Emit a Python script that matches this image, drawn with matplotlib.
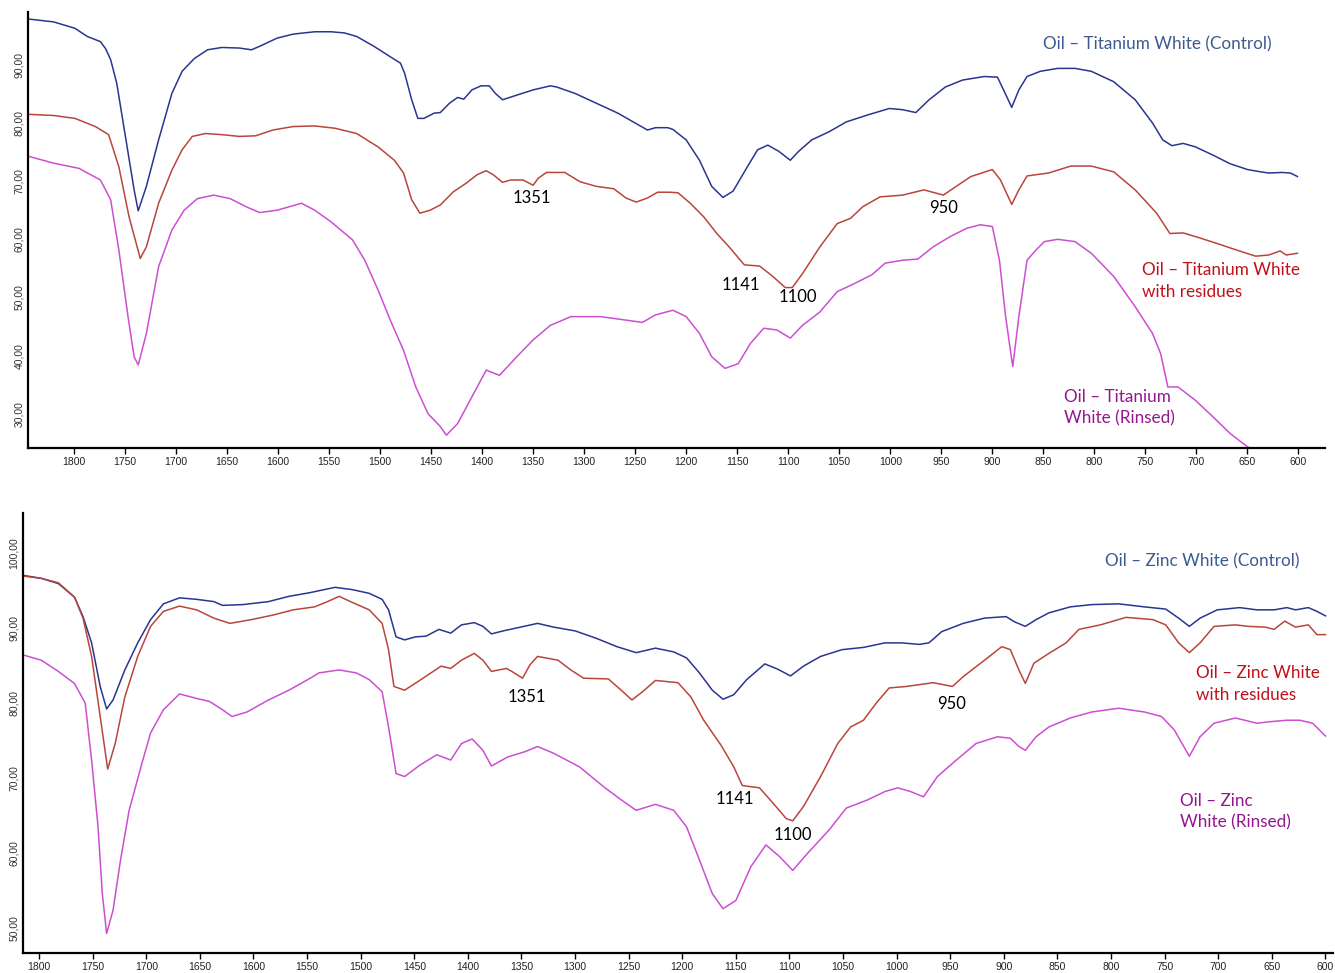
import matplotlib
matplotlib.use("Agg")
import matplotlib.pyplot as plt
from matplotlib.ticker import FuncFormatter

# ---------------- Titanium white panel ----------------
ti_control_wn = [1845, 1820, 1799, 1787, 1774, 1769, 1764, 1758, 1750, 1741, 1737, 1729, 1717, 1704,
                 1694, 1682, 1669, 1655, 1638, 1626, 1618, 1601, 1585, 1564, 1548, 1535, 1523, 1506,
                 1490, 1480, 1476, 1469, 1463, 1457, 1447, 1441, 1432, 1424, 1418, 1410, 1401, 1393,
                 1387, 1380, 1366, 1350, 1333, 1327, 1309, 1288, 1267, 1251, 1238, 1230, 1218, 1213,
                 1200, 1187, 1175, 1164, 1154, 1141, 1130, 1120, 1109, 1098, 1090, 1077, 1060, 1043,
                 1022, 1001, 988, 975, 962, 946, 929, 908, 895, 889, 881, 874, 866, 853, 836, 819,
                 803, 781, 760, 743, 733, 724, 713, 701, 684, 667, 650, 637, 629, 616, 608, 601]
ti_control_pct = [97.9, 97.4, 96.3, 94.9, 94.0, 92.8, 90.9, 86.8, 78.2, 68.5, 64.9, 69.1, 77.1, 85.1,
                  88.9, 91.1, 92.6, 93.0, 92.9, 92.6, 93.2, 94.6, 95.3, 95.7, 95.7, 95.5, 94.9, 93.2,
                  91.4, 90.3, 88.6, 84.0, 80.8, 80.8, 81.7, 81.8, 83.4, 84.4, 84.1, 85.7, 86.4, 86.4,
                  85.1, 84.0, 84.8, 85.7, 86.4, 86.2, 85.1, 83.4, 81.7, 80.1, 78.8, 79.2, 79.2, 78.9,
                  77.1, 73.6, 69.1, 67.2, 68.3, 72.2, 75.4, 76.2, 75.1, 73.6, 75.1, 77.1, 78.5, 80.2,
                  81.4, 82.5, 82.3, 81.8, 84.0, 86.2, 87.4, 88.0, 87.9, 85.7, 82.7, 85.7, 88.0, 88.9,
                  89.4, 89.4, 88.9, 87.1, 84.0, 80.0, 77.1, 76.1, 76.5, 75.9, 74.5, 73.0, 72.0, 71.6,
                  71.4, 71.5, 71.4, 70.8]

ti_residue_wn = [1845, 1820, 1799, 1779, 1766, 1756, 1746, 1735, 1729, 1717, 1704, 1694, 1684, 1671,
                 1655, 1638, 1622, 1605, 1585, 1564, 1544, 1523, 1502, 1486, 1477, 1469, 1461, 1451,
                 1441, 1428, 1416, 1405, 1396, 1389, 1380, 1372, 1360, 1350, 1345, 1337, 1319, 1304,
                 1288, 1271, 1259, 1249, 1238, 1228, 1216, 1208, 1196, 1183, 1170, 1158, 1143, 1128,
                 1115, 1103, 1096, 1086, 1069, 1052, 1039, 1027, 1010, 988, 967, 948, 938, 921, 900,
                 892, 881, 874, 866, 845, 823, 803, 781, 760, 739, 726, 713, 696, 675, 658, 642, 629,
                 618, 612, 601]
ti_residue_pct = [81.5, 81.3, 80.8, 79.4, 78.0, 72.5, 63.9, 56.7, 58.7, 66.2, 71.9, 75.4, 77.7, 78.2,
                  78.0, 77.7, 77.8, 78.8, 79.4, 79.5, 79.1, 78.2, 75.9, 73.6, 71.4, 66.8, 64.5, 65.0,
                  65.9, 68.2, 69.6, 71.1, 71.8, 71.1, 69.8, 70.2, 70.2, 69.3, 70.5, 71.5, 71.5, 69.9,
                  69.1, 68.7, 67.1, 66.4, 67.1, 68.1, 68.1, 68.0, 66.2, 63.9, 61.0, 58.7, 55.6, 55.4,
                  53.6, 51.7, 51.7, 54.1, 58.7, 62.7, 63.6, 65.6, 67.3, 67.6, 68.5, 67.6, 68.8, 70.8,
                  72.0, 70.2, 66.0, 68.5, 70.9, 71.4, 72.6, 72.6, 71.6, 68.5, 64.5, 61.0, 61.1, 60.2,
                  59.0, 58.0, 57.1, 57.3, 58.0, 57.3, 57.6]

ti_rinsed_wn = [1845, 1820, 1795, 1774, 1764, 1756, 1747, 1741, 1737, 1729, 1717, 1704, 1692, 1679,
                1663, 1647, 1630, 1618, 1601, 1577, 1564, 1548, 1527, 1515, 1502, 1490, 1477, 1465,
                1453, 1441, 1435, 1424, 1410, 1396, 1383, 1366, 1350, 1333, 1313, 1284, 1259, 1243,
                1230, 1213, 1200, 1187, 1175, 1162, 1149, 1137, 1124, 1111, 1098, 1086, 1069, 1052,
                1035, 1018, 1005, 988, 973, 958, 941, 925, 912, 900, 893, 887, 880, 874, 866, 857,
                849, 836, 819, 803, 781, 760, 743, 735, 728, 718, 701, 684, 667, 650, 642]
ti_rinsed_pct = [74.3, 73.1, 72.2, 70.2, 66.8, 58.2, 46.7, 39.8, 38.4, 43.8, 55.3, 61.6, 65.0, 67.0,
                 67.6, 67.0, 65.5, 64.6, 65.0, 66.2, 65.0, 63.0, 59.9, 56.4, 51.3, 46.1, 40.9, 34.6,
                 30.0, 27.8, 26.3, 28.3, 32.9, 37.5, 36.6, 39.8, 42.7, 45.2, 46.7, 46.7, 46.1, 45.7,
                 47.0, 47.8, 46.7, 43.8, 39.8, 37.8, 38.6, 42.1, 44.7, 44.4, 43.0, 45.2, 47.5, 51.0,
                 52.4, 53.9, 55.9, 56.4, 56.6, 58.7, 60.5, 61.9, 62.5, 62.2, 56.4, 46.7, 38.1, 46.7,
                 56.4, 58.2, 59.6, 60.0, 59.6, 57.6, 53.6, 48.4, 43.8, 40.3, 34.6, 34.6, 32.3, 29.5,
                 26.6, 24.3, 23.7]

# ---------------- Zinc white panel ----------------
zn_control_wn = [1815, 1798, 1782, 1767, 1759, 1751, 1743, 1737, 1731, 1720, 1708, 1696, 1684, 1669,
                 1653, 1637, 1629, 1610, 1586, 1567, 1547, 1524, 1508, 1492, 1480, 1474, 1467, 1459,
                 1449, 1439, 1427, 1416, 1406, 1394, 1386, 1378, 1367, 1351, 1335, 1320, 1300, 1280,
                 1261, 1243, 1225, 1208, 1196, 1184, 1172, 1162, 1152, 1140, 1123, 1111, 1099, 1087,
                 1071, 1051, 1031, 1011, 995, 979, 970, 958, 938, 918, 898, 890, 880, 870, 858, 838,
                 818, 793, 769, 749, 737, 727, 717, 701, 680, 664, 648, 636, 628, 616, 608, 600]
zn_control_pct = [97.0, 96.6, 95.9, 94.1, 91.5, 88.0, 82.2, 79.2, 80.4, 84.4, 88.0, 91.1, 93.2, 94.0,
                  93.8, 93.5, 93.0, 93.1, 93.5, 94.2, 94.7, 95.4, 95.1, 94.6, 93.8, 92.4, 88.8, 88.4,
                  88.8, 88.9, 89.8, 89.3, 90.4, 90.7, 90.2, 89.2, 89.6, 90.1, 90.6, 90.1, 89.6, 88.6,
                  87.5, 86.7, 87.3, 86.8, 86.0, 84.0, 81.7, 80.5, 81.1, 83.1, 85.2, 84.5, 83.6, 84.9,
                  86.2, 87.1, 87.4, 88.0, 88.0, 87.8, 88.0, 89.5, 90.6, 91.3, 91.5, 90.8, 90.2, 91.1,
                  92.0, 92.8, 93.1, 93.2, 92.8, 92.5, 91.3, 90.2, 91.3, 92.4, 92.7, 92.4, 92.4, 92.7,
                  92.4, 92.7, 92.2, 91.6]

zn_residue_wn = [1815, 1798, 1782, 1767, 1759, 1751, 1743, 1736, 1729, 1720, 1708, 1696, 1684, 1669,
                 1653, 1637, 1622, 1602, 1582, 1563, 1543, 1531, 1520, 1508, 1492, 1480, 1474, 1469,
                 1459, 1445, 1425, 1416, 1406, 1394, 1386, 1378, 1364, 1359, 1349, 1342, 1335, 1316,
                 1304, 1292, 1269, 1257, 1247, 1237, 1225, 1204, 1192, 1180, 1164, 1152, 1144, 1128,
                 1115, 1103, 1097, 1087, 1071, 1055, 1043, 1031, 1019, 1007, 991, 966, 948, 938, 918,
                 902, 894, 886, 880, 872, 858, 842, 830, 810, 786, 761, 749, 737, 727, 717, 704, 684,
                 672, 656, 648, 638, 628, 616, 608, 600]
zn_residue_pct = [96.9, 96.6, 96.0, 94.1, 91.3, 86.2, 78.2, 71.2, 74.6, 80.8, 86.2, 90.2, 92.2, 92.9,
                  92.4, 91.3, 90.6, 91.1, 91.7, 92.4, 92.8, 93.5, 94.2, 93.4, 92.4, 90.6, 87.1, 82.2,
                  81.7, 83.0, 84.9, 84.6, 85.7, 86.6, 85.7, 84.2, 84.6, 84.2, 83.3, 85.1, 86.2, 85.7,
                  84.4, 83.3, 83.2, 81.7, 80.4, 81.5, 83.0, 82.7, 80.8, 77.7, 74.4, 71.5, 69.0, 68.7,
                  66.6, 64.6, 64.3, 66.2, 70.2, 74.6, 76.8, 77.7, 80.0, 82.0, 82.2, 82.7, 82.2, 83.5,
                  85.7, 87.5, 87.1, 84.4, 82.6, 85.3, 86.6, 88.0, 89.8, 90.4, 91.4, 91.1, 90.4, 88.0,
                  86.7, 88.0, 90.2, 90.4, 90.2, 90.1, 89.8, 90.9, 90.1, 90.4, 89.1, 89.1]

zn_rinsed_wn = [1815, 1798, 1782, 1767, 1757, 1751, 1745, 1741, 1737, 1731, 1724, 1716, 1704, 1696,
                1684, 1669, 1653, 1641, 1629, 1620, 1606, 1586, 1567, 1547, 1539, 1520, 1504, 1492,
                1480, 1474, 1467, 1459, 1445, 1429, 1416, 1406, 1396, 1386, 1378, 1363, 1347, 1335,
                1320, 1296, 1273, 1257, 1243, 1225, 1208, 1196, 1184, 1172, 1162, 1150, 1136, 1122,
                1109, 1097, 1083, 1063, 1047, 1027, 1011, 999, 987, 975, 962, 946, 926, 906, 894,
                886, 880, 870, 858, 838, 818, 793, 769, 753, 741, 727, 717, 704, 684, 664, 652, 636,
                624, 612, 600]
zn_rinsed_pct = [86.4, 85.7, 84.2, 82.6, 80.0, 72.4, 63.5, 54.6, 49.3, 52.4, 59.1, 65.7, 72.0, 76.0,
                 79.1, 81.2, 80.6, 80.2, 79.1, 78.2, 78.8, 80.4, 81.7, 83.3, 84.0, 84.4, 84.0, 83.1,
                 81.5, 76.8, 70.6, 70.2, 71.7, 73.1, 72.4, 74.6, 75.2, 73.7, 71.6, 72.8, 73.5, 74.2,
                 73.3, 71.5, 68.8, 67.1, 65.7, 66.5, 65.7, 63.5, 59.1, 54.6, 52.6, 53.7, 58.2, 61.1,
                 59.5, 57.7, 60.0, 63.1, 66.0, 67.1, 68.2, 68.7, 68.2, 67.5, 70.2, 72.2, 74.6, 75.5,
                 75.3, 74.2, 73.7, 75.5, 76.8, 78.0, 78.8, 79.3, 78.8, 78.2, 76.4, 72.9, 75.5, 77.3,
                 78.0, 77.3, 77.5, 77.7, 77.7, 77.3, 75.6]

# Band labels (wavenumber, % T) and series captions
band_text = ["1351", "950", "1141", "1100"]
ti_band_pos = [(1351, 67.1), (948, 65.4), (1146, 52.1), (1091, 50.1)]
zn_band_pos = [(1345, 80.8), (949, 79.9), (1151, 67.2), (1097, 62.4)]

ti_captions = ["Oil \u2013 Titanium White (Control)", "Oil \u2013 Titanium White\nwith residues",
               "Oil \u2013 Titanium\nWhite (Rinsed)"]
zn_captions = ["Oil \u2013 Zinc White (Control)", "Oil \u2013 Zinc White\nwith residues",
               "Oil \u2013 Zinc\nWhite (Rinsed)"]

x_ticks = list(range(1800, 599, -50))

LINE_COLORS = ["#2a3590", "#b8463c", "#cc4fd2"]
TEXT_COLORS = ["#3d5a92", "#c0101a", "#93178f"]
ANNOT_FONT = ["Lato", "DejaVu Sans"]
TICK_FONT = ["Liberation Sans", "DejaVu Sans"]

fig = plt.figure(figsize=(13.35, 9.73), dpi=100)
fig.patch.set_facecolor("white")

ax_ti = fig.add_axes([28 / 1335, 1 - 448 / 973, (1325 - 28) / 1335, 436 / 973])
ax_zn = fig.add_axes([23 / 1335, 1 - 953 / 973, (1333 - 23) / 1335, 440 / 973])


def comma_fmt(v, _pos):
    return f"{v:.2f}".replace(".", ",")


def style_axes(ax, xlim, ylim, yticks):
    ax.set_xlim(*xlim)
    ax.set_ylim(*ylim)
    ax.set_xticks(x_ticks)
    ax.set_yticks(yticks)
    ax.yaxis.set_major_formatter(FuncFormatter(comma_fmt))
    for side in ("top", "right"):
        ax.spines[side].set_visible(False)
    for side in ("left", "bottom"):
        ax.spines[side].set_linewidth(1.6)
        ax.spines[side].set_color("black")
    ax.tick_params(axis="x", direction="out", length=4, width=1.0, pad=2.5,
                   labelsize=7.5, labelcolor="#222222")
    ax.tick_params(axis="y", length=0, pad=3, labelsize=7.5, labelcolor="#333333")
    for lab in ax.get_yticklabels():
        lab.set_rotation(90)
        lab.set_va("center")
        lab.set_family(TICK_FONT)
    for lab in ax.get_xticklabels():
        lab.set_family(TICK_FONT)


def draw_panel(ax, series, band_pos, captions, caption_pos):
    for (wn, pct), col in zip(series, LINE_COLORS):
        ax.plot(wn, pct, color=col, lw=1.1, solid_joinstyle="round", clip_on=True)
    for txt, (x, y) in zip(band_text, band_pos):
        ax.text(x, y, txt, ha="center", va="center", fontsize=12, color="black",
                family=ANNOT_FONT)
    for i, (txt, (x, y, ha)) in enumerate(zip(captions, caption_pos)):
        ax.text(x, y, txt, ha=ha, va="center", fontsize=12.3, color=TEXT_COLORS[i],
                family=ANNOT_FONT, linespacing=1.45)


draw_panel(ax_ti,
           [(ti_control_wn, ti_control_pct), (ti_residue_wn, ti_residue_pct),
            (ti_rinsed_wn, ti_rinsed_pct)],
           ti_band_pos, ti_captions,
           [(738, 93.6, "center"), (753, 52.8, "left"), (830, 31.0, "left")])
style_axes(ax_ti, (1845, 574), (24.1, 99.1), [30, 40, 50, 60, 70, 80, 90])

draw_panel(ax_zn,
           [(zn_control_wn, zn_control_pct), (zn_residue_wn, zn_residue_pct),
            (zn_rinsed_wn, zn_rinsed_pct)],
           zn_band_pos, zn_captions,
           [(715, 98.9, "center"), (721, 82.5, "left"), (736, 65.5, "left")])
style_axes(ax_zn, (1815, 593), (46.7, 105.3), [50, 60, 70, 80, 90, 100])

fig.savefig("out.png", dpi=100, facecolor="white")
